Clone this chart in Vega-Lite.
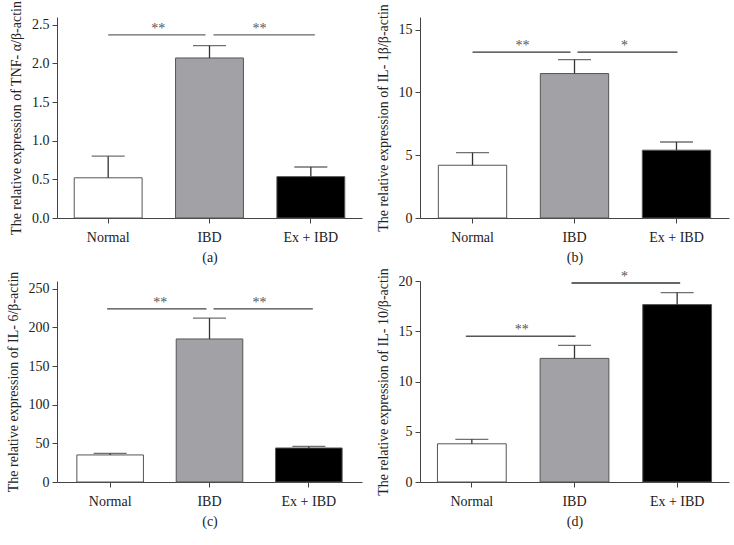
{
  "$schema": "https://vega.github.io/schema/vega-lite/v6.json",
  "padding": {"left": 6, "top": 0, "right": 2, "bottom": 2},
  "background": "white",
  "datasets": {
    "bars": [
      {"panel": "a", "group": "Normal", "mean": 0.52, "upper": 0.8},
      {"panel": "a", "group": "IBD", "mean": 2.07, "upper": 2.23},
      {"panel": "a", "group": "Ex + IBD", "mean": 0.535, "upper": 0.66},
      {"panel": "b", "group": "Normal", "mean": 4.2, "upper": 5.2},
      {"panel": "b", "group": "IBD", "mean": 11.5, "upper": 12.6},
      {"panel": "b", "group": "Ex + IBD", "mean": 5.4, "upper": 6.05},
      {"panel": "c", "group": "Normal", "mean": 35, "upper": 37},
      {"panel": "c", "group": "IBD", "mean": 185, "upper": 212},
      {"panel": "c", "group": "Ex + IBD", "mean": 44, "upper": 46},
      {"panel": "d", "group": "Normal", "mean": 3.8, "upper": 4.25},
      {"panel": "d", "group": "IBD", "mean": 12.3, "upper": 13.6},
      {"panel": "d", "group": "Ex + IBD", "mean": 17.65, "upper": 18.85}
    ],
    "sig": [
      {"panel": "a", "side": "left", "from": "Normal", "to": "IBD", "y": 2.37, "label": "**"},
      {"panel": "a", "side": "right", "from": "IBD", "to": "Ex + IBD", "y": 2.37, "label": "**"},
      {"panel": "b", "side": "left", "from": "Normal", "to": "IBD", "y": 13.2, "label": "**"},
      {"panel": "b", "side": "right", "from": "IBD", "to": "Ex + IBD", "y": 13.2, "label": "*"},
      {"panel": "c", "side": "left", "from": "Normal", "to": "IBD", "y": 224, "label": "**"},
      {"panel": "c", "side": "right", "from": "IBD", "to": "Ex + IBD", "y": 224, "label": "**"},
      {"panel": "d", "side": "left", "from": "Normal", "to": "IBD", "y": 14.5, "label": "**"},
      {"panel": "d", "side": "right", "from": "IBD", "to": "Ex + IBD", "y": 19.8, "label": "*"}
    ]
  },
  "config": {
    "view": {"stroke": null},
    "font": "Liberation Serif, Times New Roman, serif",
    "axis": {
      "labelFont": "Liberation Serif, Times New Roman, serif",
      "titleFont": "Liberation Serif, Times New Roman, serif",
      "labelFontSize": 14,
      "titleFontSize": 14,
      "titleFontWeight": "normal",
      "labelColor": "#222222",
      "titleColor": "#222222",
      "domainColor": "#444444",
      "tickColor": "#444444",
      "grid": false,
      "tickSize": 5
    },
    "axisX": {"labelAngle": 0, "labelPadding": 7, "titlePadding": 6},
    "axisY": {"labelPadding": 3, "titlePadding": 8},
    "text": {"font": "Liberation Serif, Times New Roman, serif"}
  },
  "columns": 2,
  "bounds": "flush",
  "spacing": {"column": 58, "row": 63},
  "concat": [
    {
      "width": 305, "height": 201,
      "layer": [
        {"data": {"name": "bars"}, "transform": [{"filter": "datum.panel === 'a'"}],
         "mark": {"type": "bar", "stroke": "#555555", "strokeWidth": 1},
         "encoding": {
           "x": {"field": "group", "type": "nominal", "sort": null, "scale": {"domain": ["Normal", "IBD", "Ex + IBD"], "paddingInner": 0.33, "paddingOuter": 0.17}, "axis": {"title": "(a)"}},
           "y": {"field": "mean", "type": "quantitative", "scale": {"domain": [0, 2.5]}, "axis": {"values": [0, 0.5, 1, 1.5, 2, 2.5], "format": ".1f", "title": "The relative expression of TNF- α/β-actin"}},
           "fill": {"field": "group", "type": "nominal", "scale": {"domain": ["Normal", "IBD", "Ex + IBD"], "range": ["#ffffff", "#a2a1a6", "#000000"]}, "legend": null}
         }},
        {"data": {"name": "bars"}, "transform": [{"filter": "datum.panel === 'a'"}],
         "mark": {"type": "rule", "color": "#333333", "strokeWidth": 1.3},
         "encoding": {"x": {"field": "group", "type": "nominal", "sort": null}, "y": {"field": "mean", "type": "quantitative"}, "y2": {"field": "upper"}}},
        {"data": {"name": "bars"}, "transform": [{"filter": "datum.panel === 'a'"}],
         "mark": {"type": "tick", "color": "#333333", "size": 33, "thickness": 1.3, "orient": "horizontal"},
         "encoding": {"x": {"field": "group", "type": "nominal", "sort": null}, "y": {"field": "upper", "type": "quantitative"}}},
        {"data": {"name": "sig"}, "transform": [{"filter": "datum.panel === 'a' && datum.side === 'left'"}],
         "mark": {"type": "rule", "color": "#666666", "strokeWidth": 1.3, "x2Offset": -4},
         "encoding": {"x": {"field": "from", "type": "nominal", "sort": null}, "x2": {"field": "to"}, "y": {"field": "y", "type": "quantitative"}}},
        {"data": {"name": "sig"}, "transform": [{"filter": "datum.panel === 'a' && datum.side === 'right'"}],
         "mark": {"type": "rule", "color": "#666666", "strokeWidth": 1.3, "xOffset": 4, "x2Offset": 4},
         "encoding": {"x": {"field": "from", "type": "nominal", "sort": null}, "x2": {"field": "to"}, "y": {"field": "y", "type": "quantitative"}}},
        {"data": {"name": "sig"}, "transform": [{"filter": "datum.panel === 'a'"}],
         "mark": {"type": "text", "fontSize": 14, "color": "#555555", "xOffset": 50, "yOffset": 1, "baseline": "bottom"},
         "encoding": {"x": {"field": "from", "type": "nominal", "sort": null}, "y": {"field": "y", "type": "quantitative"}, "text": {"field": "label"}}}
      ]
    },
    {
      "width": 309, "height": 201,
      "layer": [
        {"data": {"name": "bars"}, "transform": [{"filter": "datum.panel === 'b'"}],
         "mark": {"type": "bar", "stroke": "#555555", "strokeWidth": 1},
         "encoding": {
           "x": {"field": "group", "type": "nominal", "sort": null, "scale": {"domain": ["Normal", "IBD", "Ex + IBD"], "paddingInner": 0.33, "paddingOuter": 0.18}, "axis": {"title": "(b)"}},
           "y": {"field": "mean", "type": "quantitative", "scale": {"domain": [0, 15]}, "axis": {"values": [0, 5, 10, 15], "title": "The relative expression of IL- 1β/β-actin"}},
           "fill": {"field": "group", "type": "nominal", "scale": {"domain": ["Normal", "IBD", "Ex + IBD"], "range": ["#ffffff", "#a2a1a6", "#000000"]}, "legend": null}
         }},
        {"data": {"name": "bars"}, "transform": [{"filter": "datum.panel === 'b'"}],
         "mark": {"type": "rule", "color": "#333333", "strokeWidth": 1.3},
         "encoding": {"x": {"field": "group", "type": "nominal", "sort": null}, "y": {"field": "mean", "type": "quantitative"}, "y2": {"field": "upper"}}},
        {"data": {"name": "bars"}, "transform": [{"filter": "datum.panel === 'b'"}],
         "mark": {"type": "tick", "color": "#333333", "size": 33, "thickness": 1.3, "orient": "horizontal"},
         "encoding": {"x": {"field": "group", "type": "nominal", "sort": null}, "y": {"field": "upper", "type": "quantitative"}}},
        {"data": {"name": "sig"}, "transform": [{"filter": "datum.panel === 'b' && datum.side === 'left'"}],
         "mark": {"type": "rule", "color": "#333333", "strokeWidth": 1.3, "x2Offset": -4},
         "encoding": {"x": {"field": "from", "type": "nominal", "sort": null}, "x2": {"field": "to"}, "y": {"field": "y", "type": "quantitative"}}},
        {"data": {"name": "sig"}, "transform": [{"filter": "datum.panel === 'b' && datum.side === 'right'"}],
         "mark": {"type": "rule", "color": "#333333", "strokeWidth": 1.3, "xOffset": 3, "x2Offset": 1},
         "encoding": {"x": {"field": "from", "type": "nominal", "sort": null}, "x2": {"field": "to"}, "y": {"field": "y", "type": "quantitative"}}},
        {"data": {"name": "sig"}, "transform": [{"filter": "datum.panel === 'b'"}],
         "mark": {"type": "text", "fontSize": 14, "color": "#555555", "xOffset": 50, "yOffset": 1, "baseline": "bottom"},
         "encoding": {"x": {"field": "from", "type": "nominal", "sort": null}, "y": {"field": "y", "type": "quantitative"}, "text": {"field": "label"}}}
      ]
    },
    {
      "width": 305, "height": 201,
      "layer": [
        {"data": {"name": "bars"}, "transform": [{"filter": "datum.panel === 'c'"}],
         "mark": {"type": "bar", "stroke": "#555555", "strokeWidth": 1},
         "encoding": {
           "x": {"field": "group", "type": "nominal", "sort": null, "scale": {"domain": ["Normal", "IBD", "Ex + IBD"], "paddingInner": 0.33, "paddingOuter": 0.2}, "axis": {"title": "(c)"}},
           "y": {"field": "mean", "type": "quantitative", "scale": {"domain": [0, 250]}, "axis": {"values": [0, 50, 100, 150, 200, 250], "title": "The relative expression of IL- 6/β-actin"}},
           "fill": {"field": "group", "type": "nominal", "scale": {"domain": ["Normal", "IBD", "Ex + IBD"], "range": ["#ffffff", "#a2a1a6", "#000000"]}, "legend": null}
         }},
        {"data": {"name": "bars"}, "transform": [{"filter": "datum.panel === 'c'"}],
         "mark": {"type": "rule", "color": "#333333", "strokeWidth": 1.3},
         "encoding": {"x": {"field": "group", "type": "nominal", "sort": null}, "y": {"field": "mean", "type": "quantitative"}, "y2": {"field": "upper"}}},
        {"data": {"name": "bars"}, "transform": [{"filter": "datum.panel === 'c'"}],
         "mark": {"type": "tick", "color": "#333333", "size": 33, "thickness": 1.3, "orient": "horizontal"},
         "encoding": {"x": {"field": "group", "type": "nominal", "sort": null}, "y": {"field": "upper", "type": "quantitative"}}},
        {"data": {"name": "sig"}, "transform": [{"filter": "datum.panel === 'c' && datum.side === 'left'"}],
         "mark": {"type": "rule", "color": "#444444", "strokeWidth": 1.3, "xOffset": -3, "x2Offset": -3},
         "encoding": {"x": {"field": "from", "type": "nominal", "sort": null}, "x2": {"field": "to"}, "y": {"field": "y", "type": "quantitative"}}},
        {"data": {"name": "sig"}, "transform": [{"filter": "datum.panel === 'c' && datum.side === 'right'"}],
         "mark": {"type": "rule", "color": "#444444", "strokeWidth": 1.3, "xOffset": 4, "x2Offset": 4},
         "encoding": {"x": {"field": "from", "type": "nominal", "sort": null}, "x2": {"field": "to"}, "y": {"field": "y", "type": "quantitative"}}},
        {"data": {"name": "sig"}, "transform": [{"filter": "datum.panel === 'c'"}],
         "mark": {"type": "text", "fontSize": 14, "color": "#555555", "xOffset": 50, "yOffset": 1, "baseline": "bottom"},
         "encoding": {"x": {"field": "from", "type": "nominal", "sort": null}, "y": {"field": "y", "type": "quantitative"}, "text": {"field": "label"}}}
      ]
    },
    {
      "width": 309, "height": 201,
      "layer": [
        {"data": {"name": "bars"}, "transform": [{"filter": "datum.panel === 'd'"}],
         "mark": {"type": "bar", "stroke": "#555555", "strokeWidth": 1},
         "encoding": {
           "x": {"field": "group", "type": "nominal", "sort": null, "scale": {"domain": ["Normal", "IBD", "Ex + IBD"], "paddingInner": 0.33, "paddingOuter": 0.17}, "axis": {"title": "(d)"}},
           "y": {"field": "mean", "type": "quantitative", "scale": {"domain": [0, 20]}, "axis": {"values": [0, 5, 10, 15, 20], "title": "The relative expression of IL- 10/β-actin"}},
           "fill": {"field": "group", "type": "nominal", "scale": {"domain": ["Normal", "IBD", "Ex + IBD"], "range": ["#ffffff", "#a2a1a6", "#000000"]}, "legend": null}
         }},
        {"data": {"name": "bars"}, "transform": [{"filter": "datum.panel === 'd'"}],
         "mark": {"type": "rule", "color": "#333333", "strokeWidth": 1.3},
         "encoding": {"x": {"field": "group", "type": "nominal", "sort": null}, "y": {"field": "mean", "type": "quantitative"}, "y2": {"field": "upper"}}},
        {"data": {"name": "bars"}, "transform": [{"filter": "datum.panel === 'd'"}],
         "mark": {"type": "tick", "color": "#333333", "size": 33, "thickness": 1.3, "orient": "horizontal"},
         "encoding": {"x": {"field": "group", "type": "nominal", "sort": null}, "y": {"field": "upper", "type": "quantitative"}}},
        {"data": {"name": "sig"}, "transform": [{"filter": "datum.panel === 'd' && datum.side === 'left'"}],
         "mark": {"type": "rule", "color": "#555555", "strokeWidth": 1.3, "xOffset": -6, "x2Offset": 1},
         "encoding": {"x": {"field": "from", "type": "nominal", "sort": null}, "x2": {"field": "to"}, "y": {"field": "y", "type": "quantitative"}}},
        {"data": {"name": "sig"}, "transform": [{"filter": "datum.panel === 'd' && datum.side === 'right'"}],
         "mark": {"type": "rule", "color": "#333333", "strokeWidth": 1.3, "xOffset": -3, "x2Offset": 3},
         "encoding": {"x": {"field": "from", "type": "nominal", "sort": null}, "x2": {"field": "to"}, "y": {"field": "y", "type": "quantitative"}}},
        {"data": {"name": "sig"}, "transform": [{"filter": "datum.panel === 'd'"}],
         "mark": {"type": "text", "fontSize": 14, "color": "#555555", "xOffset": 50, "yOffset": 1, "baseline": "bottom"},
         "encoding": {"x": {"field": "from", "type": "nominal", "sort": null}, "y": {"field": "y", "type": "quantitative"}, "text": {"field": "label"}}}
      ]
    }
  ]
}
